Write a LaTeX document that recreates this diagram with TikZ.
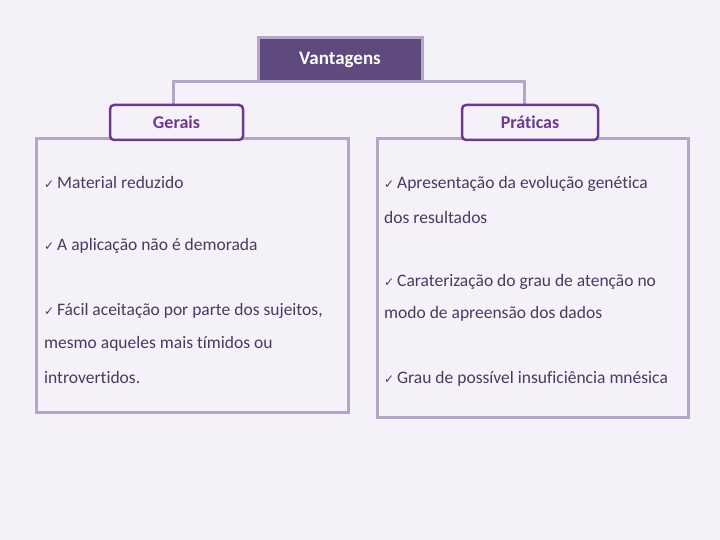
\documentclass[tikz,border=0pt]{standalone}
\usepackage{fontspec}
\setmainfont[Ligatures=NoCommon]{Carlito}
\newfontfamily\symfont{DejaVu Sans}
\definecolor{bg}{HTML}{F4F1F8}
\definecolor{lav}{HTML}{B3A6C8}
\definecolor{dark}{HTML}{5E4A7E}
\definecolor{purp}{HTML}{6B3A8F}
\definecolor{txt}{HTML}{4A3A5E}
\newcommand{\ck}{{\symfont\fontsize{12}{12}\selectfont ✓}}
\begin{document}
\begin{tikzpicture}[x=1pt,y=-1pt,
  conn/.style={draw=lav,line width=3pt},
  topbox/.style={draw=lav,line width=3pt,fill=dark,text=white,font=\fontsize{19}{19}\selectfont\bfseries,minimum width=164pt,minimum height=44pt,inner sep=0pt},
  subbox/.style={draw=purp,line width=2.5pt,rounded corners=4pt,fill=bg,text=purp,font=\fontsize{18}{18}\selectfont\bfseries,minimum width=133pt,minimum height=35pt,inner sep=0pt},
  bigbox/.style={draw=lav,line width=3pt,fill=bg,inner sep=0pt},
  item/.style={anchor=west,text=txt,font=\fontsize{17.5}{17.5}\selectfont,inner sep=0pt}]
\fill[bg] (0,0) rectangle (720,540);
\useasboundingbox (0,0) rectangle (720,540);
% big boxes
\node[bigbox,minimum width=312pt,minimum height=273pt] (L) at (192,275.5) {};
\node[bigbox,minimum width=311pt,minimum height=278pt] (R) at (532.5,278) {};
% connectors
\coordinate (jl) at (173,82);
\coordinate (jr) at (524,82);
\node[topbox] (V) at (340,60) {Vantagens};
\draw[conn] (jl|-{(0,105)}) -- (jl) -- (jr) -- (jr|-{(0,105)});
\node[subbox] (G) at (176.5,122.5) {Gerais};
\node[subbox,minimum width=136pt] (P) at (530,122.5) {Práticas};
% items left
\node[item] (l1) at (44,182) {\ck\,Material reduzido};
\node[item] (l2) at (44,246) {\ck\,A aplicação não é demorada};
\node[item] (l3) at (44,311) {\ck\,Fácil aceitação por parte dos sujeitos,};
\node[item] (l4) at (44,344) {mesmo aqueles mais tímidos ou};
\node[item] (l5) at (44,377) {introvertidos.};
% items right
\node[item] (r1) at (384,184) {\ck\,Apresentação da evolução genética};
\node[item] (r2) at (384,217) {dos resultados};
\node[item] (r3) at (384,282) {\ck\,Caraterização do grau de atenção no};
\node[item] (r4) at (384,314) {modo de apreensão dos dados};
\node[item] (r5) at (384,379) {\ck\,Grau de possível insuficiência mnésica};
\end{tikzpicture}
\end{document}
